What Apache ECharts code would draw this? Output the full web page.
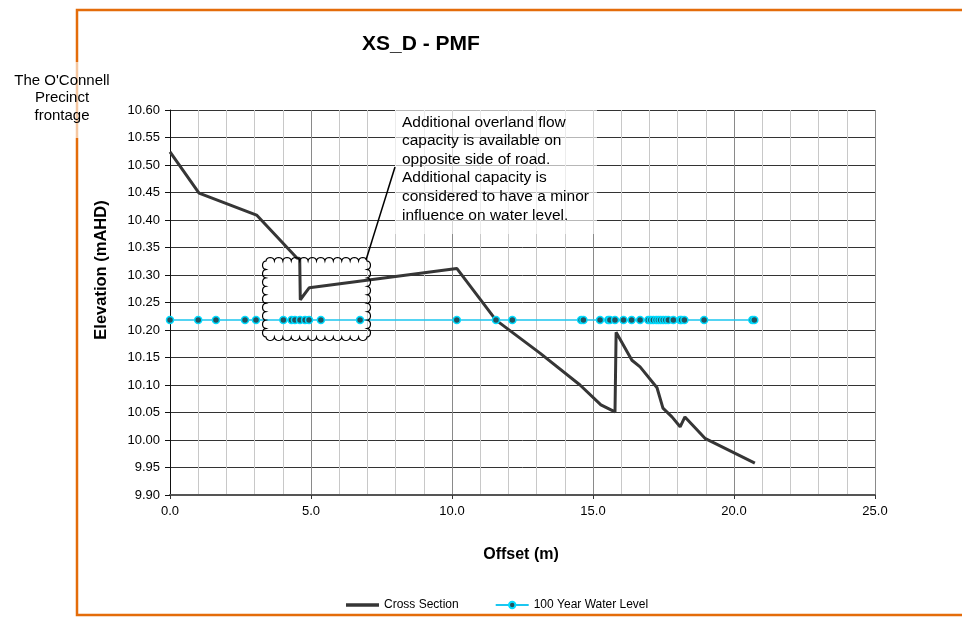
<!DOCTYPE html>
<html>
<head>
<meta charset="utf-8">
<script src="https://cdn.jsdelivr.net/npm/echarts@6/dist/echarts.min.js"></script>
<style>
  html, body { margin: 0; padding: 0; background: #ffffff; }
  #chart { width: 962px; height: 619px; }
</style>
</head>
<body>
<div id="chart"></div>
<script>
// Cross section XS_D: ground profile (offset m, elevation mAHD)
const sectionOffset = [0, 1.03, 3.07, 4.5, 4.6, 4.62, 4.94, 10.17, 11.56, 13.12, 14.54, 15.28, 15.78, 15.82, 16.38, 16.67, 17.27, 17.48, 17.8, 18.09, 18.26, 18.97, 20.74];
const sectionElev   = [10.524, 10.449, 10.409, 10.331, 10.330, 10.255, 10.277, 10.312, 10.218, 10.158, 10.100, 10.064, 10.051, 10.196, 10.145, 10.133, 10.095, 10.058, 10.042, 10.024, 10.042, 10.003, 9.958];

// 100 year water level at each surveyed station
const waterOffset = [0, 1.0, 1.63, 2.66, 3.05, 4.02, 4.31, 4.43, 4.61, 4.79, 4.93, 5.35, 6.74, 10.17, 11.56, 12.14, 14.58, 14.66, 15.25, 15.54, 15.6, 15.78, 16.08, 16.37, 16.67, 16.96, 17.05, 17.14, 17.24, 17.32, 17.4, 17.49, 17.58, 17.67, 17.85, 18.09, 18.14, 18.24, 18.94, 20.65, 20.72];
const waterElev   = [10.218, 10.218, 10.218, 10.218, 10.218, 10.218, 10.218, 10.218, 10.218, 10.218, 10.218, 10.218, 10.218, 10.218, 10.218, 10.218, 10.218, 10.218, 10.218, 10.218, 10.218, 10.218, 10.218, 10.218, 10.218, 10.218, 10.218, 10.218, 10.218, 10.218, 10.218, 10.218, 10.218, 10.218, 10.218, 10.218, 10.218, 10.218, 10.218, 10.218, 10.218];

// Axis ranges and tick steps
const xMin = 0, xMax = 25, xStep = 5;
const yMin = 9.9, yMax = 10.6, yStep = 0.05;

const seriesNames = ['Cross Section', '100 Year Water Level'];
const chartTitle = 'XS_D - PMF';
const xTitle = 'Offset (m)';
const yTitle = 'Elevation (mAHD)';
const sideNote = "The O'Connell\nPrecinct\nfrontage";
const noteText = 'Additional overland flow\ncapacity is available on\nopposite side of road.\nAdditional capacity is\nconsidered to have a minor\ninfluence on water level.';

const FONT = '"Liberation Sans", Arial, sans-serif';

function zip(xs, ys) { return xs.map((x, i) => [x, ys[i]]); }

// Scalloped outline for the callout, sampled into polygon points:
// a row of small outward bumps along each edge of the rectangle
function scallopPoints(x0, y0, x1, y1, nx, ny) {
  const pts = [[x0, y0]];
  function edge(ax, ay, bx, by, n, ox, oy) {
    const sx = (bx - ax) / n, sy = (by - ay) / n;
    const k = Math.hypot(sx, sy) * 0.55;
    for (let i = 0; i < n; i++) {
      const px = ax + sx * i, py = ay + sy * i;
      const qx = px + sx, qy = py + sy;
      const c1x = px + ox * k, c1y = py + oy * k, c2x = qx + ox * k, c2y = qy + oy * k;
      for (let s = 1; s <= 8; s++) {
        const t = s / 8, u = 1 - t;
        pts.push([
          u * u * u * px + 3 * u * u * t * c1x + 3 * u * t * t * c2x + t * t * t * qx,
          u * u * u * py + 3 * u * u * t * c1y + 3 * u * t * t * c2y + t * t * t * qy
        ]);
      }
    }
  }
  edge(x0, y0, x1, y0, nx, 0, -1);
  edge(x1, y0, x1, y1, ny, 1, 0);
  edge(x1, y1, x0, y1, nx, 0, 1);
  edge(x0, y1, x0, y0, ny, -1, 0);
  return pts;
}

const chart = echarts.init(document.getElementById('chart'));

const option = {
  backgroundColor: '#ffffff',
  animation: false,
  grid: { left: 170, right: 87, top: 110, bottom: 124, containLabel: false },
  legend: {
    left: 341, top: 594,
    itemWidth: 33, itemHeight: 8, itemGap: 36,
    textStyle: { fontFamily: FONT, fontSize: 12, color: '#000' },
    data: [
      { name: seriesNames[0], icon: 'path://M0,0L33,0L33,3.6L0,3.6Z', itemStyle: { color: '#363636' } },
      { name: seriesNames[1] }
    ]
  },
  xAxis: {
    type: 'value', min: xMin, max: xMax, interval: xStep,
    axisLine: { show: true, onZero: false, lineStyle: { color: '#555', width: 2 } },
    axisTick: { show: true, length: 4, lineStyle: { color: '#333' } },
    axisLabel: { fontFamily: FONT, fontSize: 13, color: '#000', margin: 10, formatter: v => v.toFixed(1) },
    splitLine: { show: true, lineStyle: { color: '#8a8a8a', width: 1 } },
    minorTick: { show: false, splitNumber: 5 },
    minorSplitLine: { show: true, lineStyle: { color: '#c8c8c8', width: 1 } }
  },
  yAxis: {
    type: 'value', min: yMin, max: yMax, interval: yStep,
    axisLine: { show: true, onZero: false, lineStyle: { color: '#111', width: 1 } },
    axisTick: { show: true, length: 5, lineStyle: { color: '#111' } },
    axisLabel: { fontFamily: FONT, fontSize: 13, color: '#000', margin: 10, formatter: v => v.toFixed(2) },
    splitLine: { show: true, lineStyle: { color: '#333', width: 1 } }
  },
  series: [
    {
      name: seriesNames[0], type: 'line', data: zip(sectionOffset, sectionElev),
      symbol: 'none',
      lineStyle: { color: '#363636', width: 3 },
      itemStyle: { color: '#363636' },
      z: 3
    },
    {
      name: seriesNames[1], type: 'line', data: zip(waterOffset, waterElev),
      symbol: 'circle', symbolSize: 7, showSymbol: true,
      lineStyle: { color: '#1cc6f0', width: 1.5 },
      itemStyle: { color: '#24535f', borderColor: '#00dcff', borderWidth: 1.5 },
      z: 4
    }
  ],
  graphic: [
    // orange frame
    { type: 'polyline', z: 20, shape: { points: [[962, 10], [77, 10], [77, 615], [962, 615]] },
      style: { stroke: '#e46c0a', lineWidth: 2.5, fill: null } },
    // side note with translucent backing
    { type: 'rect', z: 21, shape: { x: 4, y: 62, width: 118, height: 76 },
      style: { fill: 'rgba(255,255,255,0.62)' } },
    { type: 'text', z: 22, x: 62, y: 72,
      style: { text: sideNote, fontFamily: FONT, fontSize: 15, fill: '#000', align: 'center', verticalAlign: 'top', lineHeight: 17.5 } },
    // title and axis titles
    { type: 'text', z: 22, x: 421, y: 44,
      style: { text: chartTitle, fontFamily: FONT, fontSize: 21, fontWeight: 'bold', fill: '#000', align: 'center', verticalAlign: 'middle' } },
    { type: 'text', z: 22, x: 521, y: 555,
      style: { text: xTitle, fontFamily: FONT, fontSize: 16, fontWeight: 'bold', fill: '#000', align: 'center', verticalAlign: 'middle' } },
    { type: 'text', z: 22, x: 101, y: 270, rotation: Math.PI / 2,
      style: { text: yTitle, fontFamily: FONT, fontSize: 16.5, fontWeight: 'bold', fill: '#000', align: 'center', verticalAlign: 'middle' } },
    // annotation box
    { type: 'rect', z: 21, shape: { x: 395, y: 108, width: 202, height: 126 },
      style: { fill: 'rgba(255,255,255,0.65)' } },
    { type: 'text', z: 22, x: 402, y: 113,
      style: { text: noteText, fontFamily: FONT, fontSize: 15.5, fill: '#000', align: 'left', verticalAlign: 'top', lineHeight: 18.6 } },
    // callout pointer and scalloped outline
    { type: 'line', z: 22, shape: { x1: 366, y1: 260, x2: 395, y2: 167 },
      style: { stroke: '#000', lineWidth: 1.5 } },
    { type: 'polygon', z: 22, shape: { points: scallopPoints(266, 261, 367, 337, 12, 9) },
      style: { stroke: '#000', lineWidth: 1.2, fill: null } }
  ]
};

chart.setOption(option);
</script>
</body>
</html>
